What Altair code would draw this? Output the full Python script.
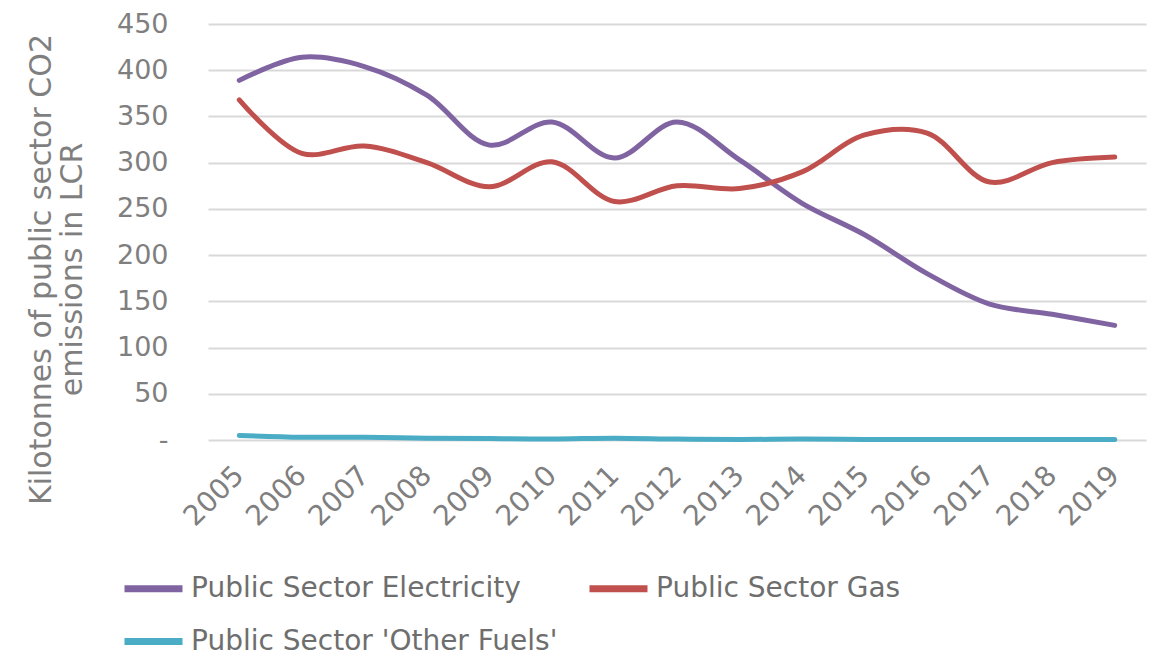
import altair as alt
import pandas as pd

years = [str(y) for y in range(2005, 2020)]
electricity = [389, 414, 404, 373, 319, 344, 305, 344, 303, 256, 222, 180, 147, 136, 124]
gas = [368, 310, 318, 300, 274, 301, 258, 275, 272, 290, 330, 332, 279, 300, 306]
other = [5, 3, 3, 2, 1.5, 1, 2, 1, 0.5, 1, 0.5, 0.5, 0.5, 0.5, 0.5]
# legend order arranged so that a 2-column legend shows Electricity, Gas / Other Fuels
series_names = ["Public Sector Electricity", "Public Sector 'Other Fuels'", "Public Sector Gas"]
series_colors = ["#8064A2", "#4BACC6", "#C0504D"]
series_values = {
    "Public Sector Electricity": electricity,
    "Public Sector Gas": gas,
    "Public Sector 'Other Fuels'": other,
}

rows = []
for name in series_names:
    for y, v in zip(years, series_values[name]):
        rows.append({"Year": y, "Value": v, "Series": name})
df = pd.DataFrame(rows)

FONT = "DejaVu Sans"
GRAY = "#7f7f7f"

chart = alt.Chart(df).mark_line(
    strokeWidth=5, interpolate="catmull-rom", strokeCap="round"
).encode(
    x=alt.X("Year:O", scale=alt.Scale(type="point", padding=0.5),
            axis=alt.Axis(title=None, labelAngle=-45, labelAlign="right", labelBaseline="middle",
                          labelPadding=31, labelFontSize=28, labelColor=GRAY, labelFont=FONT,
                          ticks=False, domain=False, grid=False)),
    y=alt.Y("Value:Q", scale=alt.Scale(domain=[0, 450], nice=False),
            axis=alt.Axis(values=list(range(0, 451, 50)),
                          labelExpr="datum.value == 0 ? '-\u00a0\u00a0' : datum.label",
                          title=["Kilotonnes of public sector CO2", "emissions in LCR"],
                          titleFontSize=30, titleFontWeight="normal", titleColor=GRAY, titleFont=FONT,
                          titleX=-182, titleY=245, titleAlign="center", titleBaseline="top",
                          titleLineHeight=31,
                          labelFontSize=27, labelColor=GRAY, labelFont=FONT, labelPadding=40,
                          ticks=False, domain=False, gridColor="#d9d9d9", gridWidth=2)),
    color=alt.Color("Series:N", scale=alt.Scale(domain=series_names, range=series_colors),
                    sort=series_names,
                    legend=alt.Legend(title=None, orient="none", legendX=-87, legendY=532,
                                      columns=2, symbolType="stroke", symbolStrokeWidth=7,
                                      symbolSize=3364, labelFontSize=28, labelColor="#6e6e6e",
                                      labelFont=FONT, columnPadding=17, rowPadding=6,
                                      labelOffset=5, labelLimit=700)),
    order=alt.Order("Year:O"),
).properties(
    width=938, height=416,
    autosize=alt.AutoSizeParams(type="none"),
    padding={"left": 200, "top": 16, "right": 4, "bottom": 217},
).configure_view(stroke=None)

chart.save("out.html", embed_options={"renderer": "svg", "actions": False})
